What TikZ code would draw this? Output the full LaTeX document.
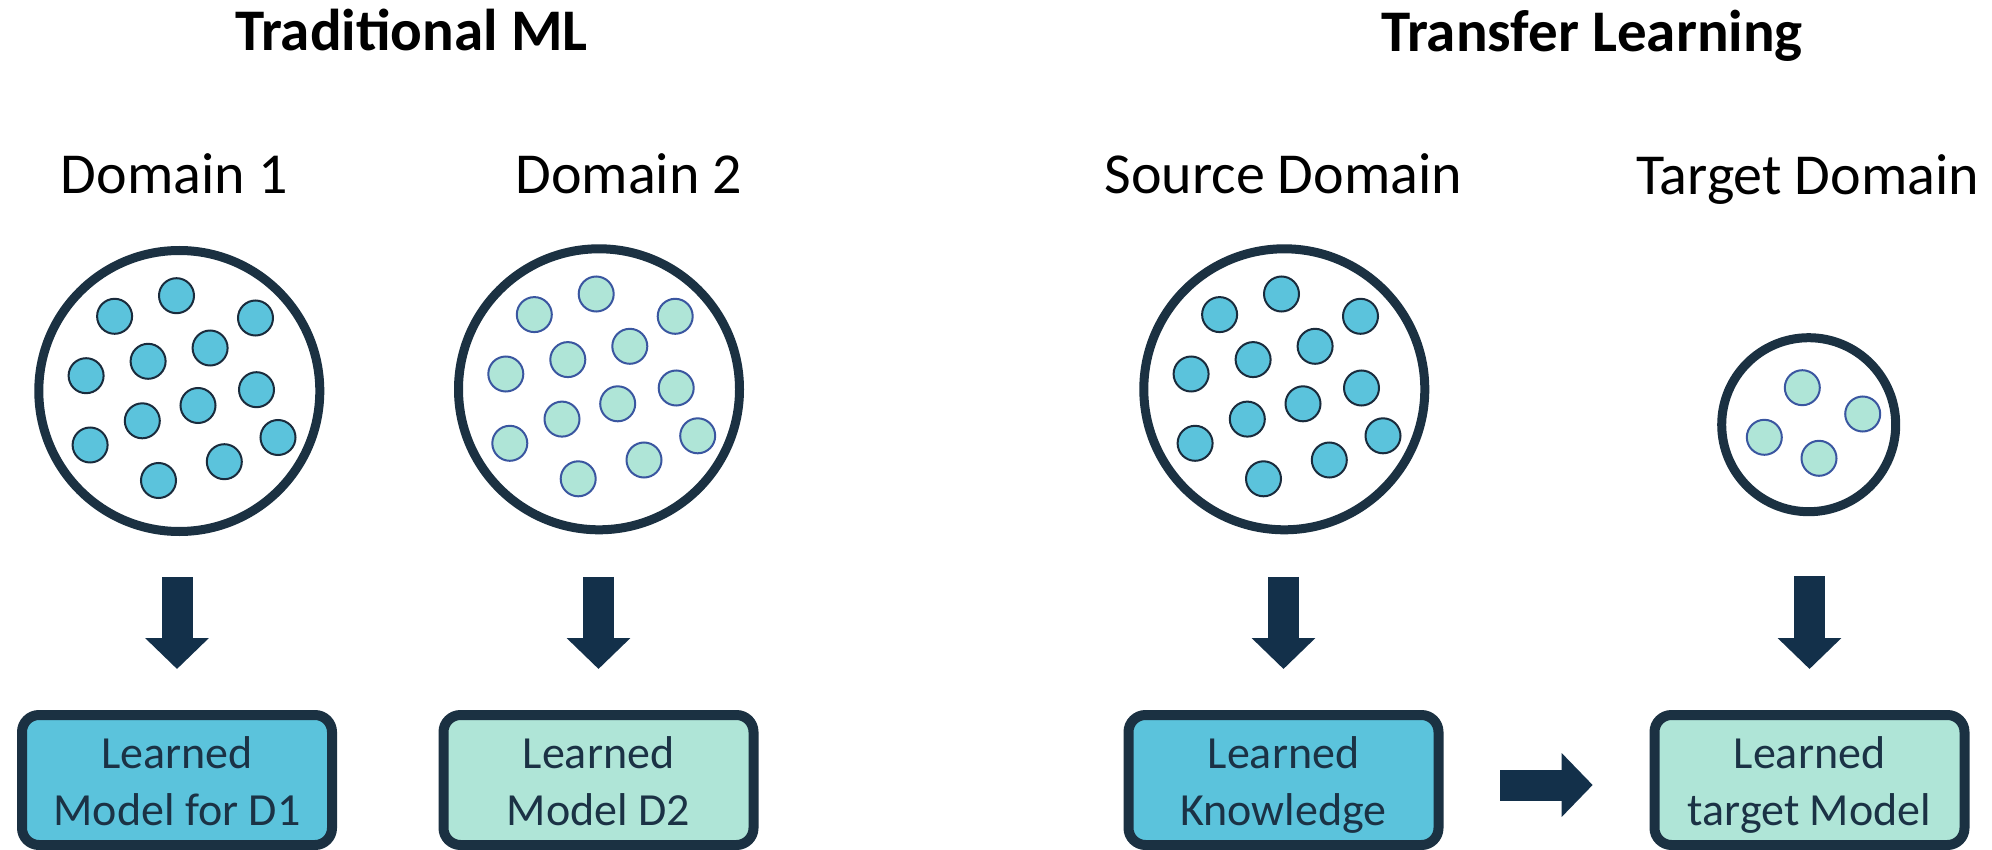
\documentclass[tikz,border=0pt]{standalone}
\usepackage{fontspec}
\setmainfont{Carlito}
\usetikzlibrary{arrows.meta}
\definecolor{darkline}{HTML}{1B3142}
\definecolor{arrowcol}{HTML}{13304A}
\definecolor{cyanfill}{HTML}{5BC3DC}
\definecolor{mintfill}{HTML}{AFE5D7}
\definecolor{mintline}{HTML}{3A56A0}
\definecolor{cyanline}{HTML}{1A2B3C}
\definecolor{boxtext}{HTML}{1B3245}
\newcommand\bxs{\rule[-6pt]{0pt}{28.5pt}}
\begin{document}
\begin{tikzpicture}[x=0.5pt,y=-0.5pt,
  ring/.style={circle, draw=darkline, line width=4.5pt, fill=white, inner sep=0pt},
  bigring/.style={ring, minimum size=140.5pt},
  smallring/.style={ring, minimum size=87pt},
  dotA/.style={circle, draw=cyanline, line width=1pt, fill=cyanfill, minimum size=17.5pt, inner sep=0pt},
  dotB/.style={circle, draw=mintline, line width=1pt, fill=mintfill, minimum size=17.5pt, inner sep=0pt},
  modelbox/.style={draw=darkline, line width=5pt, rounded corners=8.5pt, minimum width=155pt, minimum height=65pt, inner sep=0pt, align=center, text=boxtext, font=\fontsize{23}{28.5}\selectfont},
  cyanbox/.style={modelbox, fill=cyanfill},
  mintbox/.style={modelbox, fill=mintfill},
  title/.style={anchor=base, font=\bfseries\fontsize{29.5}{35}\selectfont, inner sep=0pt},
  domlabel/.style={anchor=base, font=\fontsize{29}{35}\selectfont, inner sep=0pt},
  blockarrow/.style={draw=arrowcol, line width=15.5pt, -{Triangle[width=31pt,length=15.5pt]}}
]
\fill[white] (0,0) rectangle (1992,850);
\useasboundingbox (0,0) rectangle (1992,850);

% titles
\node[title] (t1) at (411.3,51) {Traditional ML};
\node[title] (t2) at (1592,51.5) {Transfer Learning};

% domain labels
\node[domlabel] (l1) at (174.2,194) {Domain 1};
\node[domlabel] (l2) at (628.8,194) {Domain 2};
\node[domlabel] (l3) at (1283.3,194) {Source Domain};
\node[domlabel] (l4) at (1807.5,195) {Target Domain};

% rings
\node[bigring] (c1) at (179.3,391) {};
\node[bigring] (c2) at (599,389.3) {};
\node[bigring] (c3) at (1284.3,389.3) {};
\node[smallring] (c4) at (1808.7,424.7) {};

% dots
\foreach \dx/\dy [count=\i] in {-64.7/-74.7, -2.8/-95.3, 76.2/-73, -31.2/-29.7, 30.8/-43, -93.2/-15.3, 77.2/-1.3, -37/29.8, 18.7/14.5, -89.2/54, 98.7/46.5, -20.8/89.5, 45/70.7}{
  \node[dotA] (c1d\i) at ([shift={(\dx,\dy)}]c1.center) {};
  \node[dotB] (c2d\i) at ([shift={(\dx,\dy)}]c2.center) {};
  \node[dotA] (c3d\i) at ([shift={(\dx,\dy)}]c3.center) {};
}
\foreach \dx/\dy [count=\i] in {-6.4/-37, 54/-10.7, -44.4/12.6, 10.3/33.6}{
  \node[dotB] (c4d\i) at ([shift={(\dx,\dy)}]c4.center) {};
}

% boxes
\node[cyanbox] (b1) at (177,780) {\bxs Learned\\\bxs Model for D1};
\node[mintbox] (b2) at (598.5,780) {\bxs Learned\\\bxs Model D2};
\node[cyanbox] (b3) at (1283.5,780) {\bxs Learned\\\bxs Knowledge};
\node[mintbox] (b4) at (1809.5,780) {\bxs Learned\\\bxs target Model};

% arrows
\draw[blockarrow, shorten <=20.5pt, shorten >=20.5pt] (c1.south -| b1.north) -- (b1.north);
\draw[blockarrow, shorten <=21.3pt, shorten >=20.5pt] (c2.south -| b2.north) -- (b2.north);
\draw[blockarrow, shorten <=21.3pt, shorten >=20.5pt] (c3.south -| b3.north) -- (b3.north);
\draw[blockarrow, shorten <=30pt, shorten >=20.5pt] (c4.south -| b4.north) -- (b4.north);
\draw[blockarrow, shorten <=28.25pt, shorten >=28.4pt] ([yshift=-2.5pt]b3.east) -- ([yshift=-2.5pt]b4.west);
\end{tikzpicture}
\end{document}
